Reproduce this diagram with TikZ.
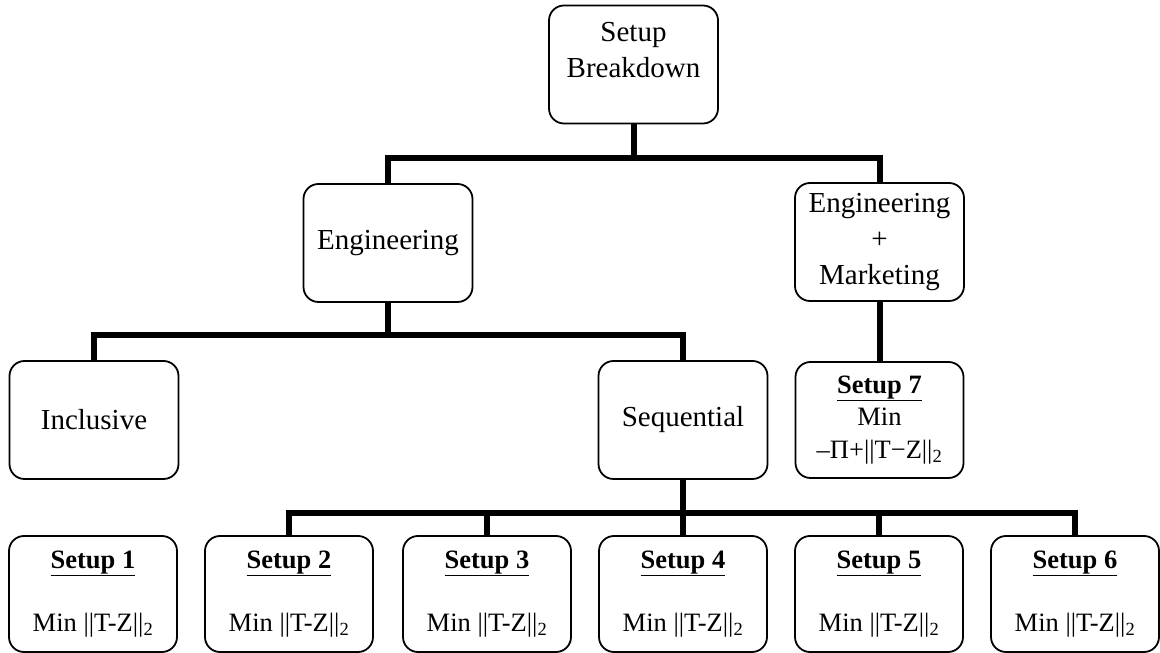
\documentclass[tikz,border=0pt]{standalone}
\usepackage{fontspec}
\setmainfont{Liberation Serif}

\tikzset{
  box/.style={draw,line width=1.8pt,rounded corners=15pt,fill=white,align=center,
    minimum width=169pt,minimum height=118pt,inner sep=0pt,
    font=\fontsize{29}{36}\selectfont},
  setupbox/.style={box,minimum width=168pt,minimum height=116pt,
    font=\fontsize{26.5}{32.5}\selectfont},
  bus/.style={line width=6pt}
}

\begin{document}
\begin{tikzpicture}[x=1pt,y=1pt]
  \useasboundingbox (0,0) rectangle (1160,653);
  % Top of the tree
  \node[box]      (root)  at (633.5,588.5) {Setup\\Breakdown\\[-18pt]\strut};
  \node[box]      (eng)   at (388,410)     {Engineering};
  \node[box]      (mkt)   at (879.5,411)   {Engineering\\+\\Marketing};
  % Middle row
  \node[box]      (incl)  at (94,233)      {Inclusive};
  \node[box]      (seq)   at (683,233)     {Sequential};
  \node[setupbox] (s7)    at (879.5,233)   {\underline{\textbf{Setup 7}}\\Min\\–Π+||T−Z||\textsubscript{2}};
  % Bottom row
  \node[setupbox] (s1)    at (93,59)   {\underline{\textbf{Setup 1}}\\[31pt]Min ||T-Z||\textsubscript{2}};
  \node[setupbox] (s2)    at (289,59)  {\underline{\textbf{Setup 2}}\\[31pt]Min ||T-Z||\textsubscript{2}};
  \node[setupbox] (s3)    at (487,59)  {\underline{\textbf{Setup 3}}\\[31pt]Min ||T-Z||\textsubscript{2}};
  \node[setupbox] (s4)    at (683,59)  {\underline{\textbf{Setup 4}}\\[31pt]Min ||T-Z||\textsubscript{2}};
  \node[setupbox] (s5)    at (879,59)  {\underline{\textbf{Setup 5}}\\[31pt]Min ||T-Z||\textsubscript{2}};
  \node[setupbox] (s6)    at (1075,59) {\underline{\textbf{Setup 6}}\\[31pt]Min ||T-Z||\textsubscript{2}};
  % Bus lines
  \coordinate (b1) at (633.5,495);
  \coordinate (b2) at (388,318);
  \coordinate (b3) at (683,140);
  \draw[bus] (root.south) -- (b1);
  \draw[bus] (eng.north) |- (b1) -| (mkt.north);
  \draw[bus] (eng.south) -- (b2);
  \draw[bus] (incl.north) |- (b2) -| (seq.north);
  \draw[bus] (mkt.south) -- (s7.north);
  \draw[bus] (seq.south) -- (s4.north);
  \draw[bus] (s2.north) |- (b3) -| (s6.north);
  \draw[bus] (s3.north) -- (s3.north |- b3);
  \draw[bus] (s5.north) -- (s5.north |- b3);
\end{tikzpicture}
\end{document}
